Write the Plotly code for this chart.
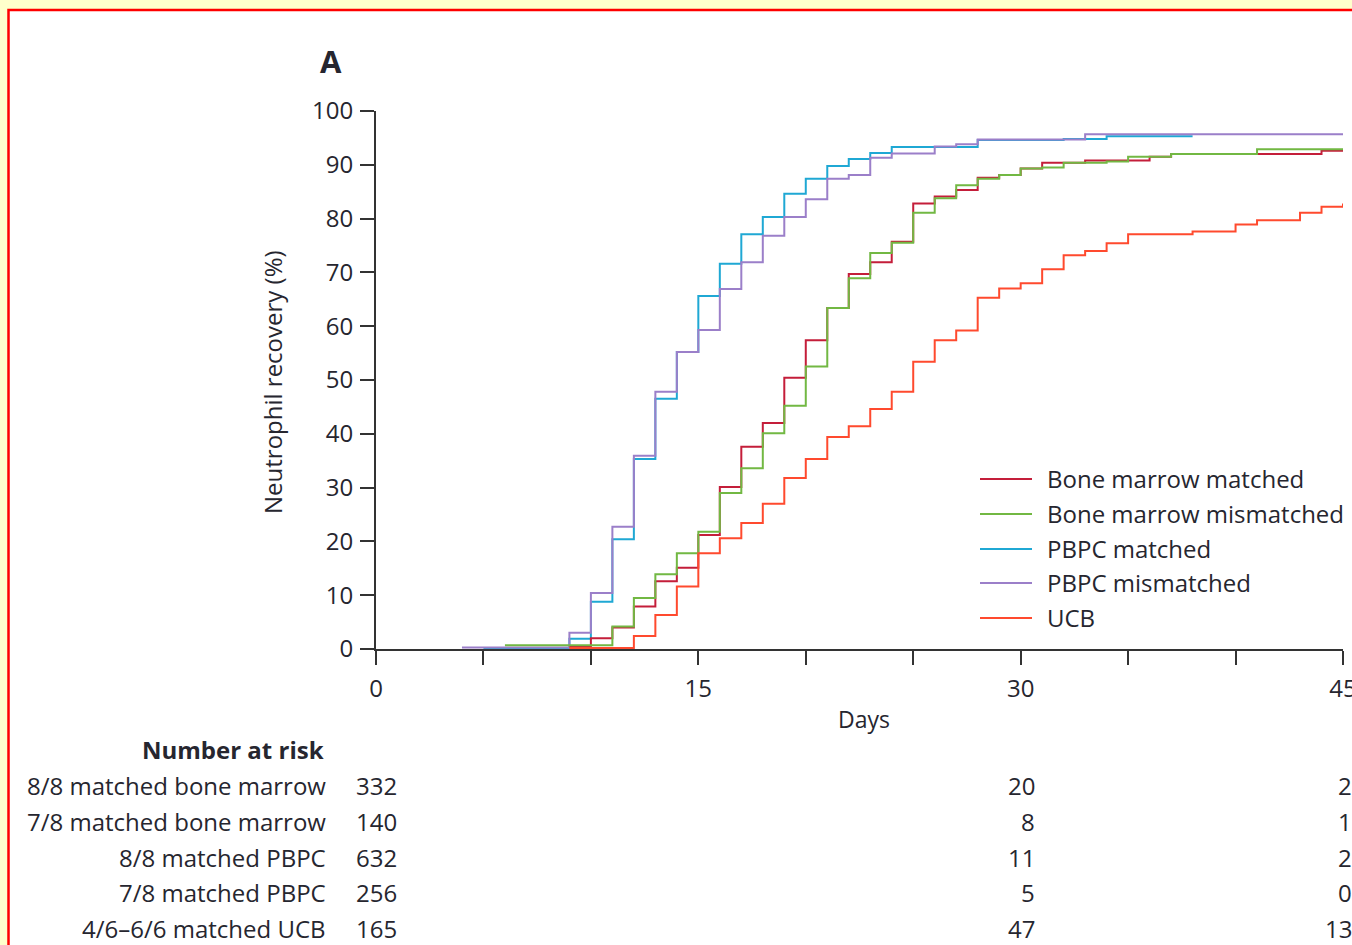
import plotly.graph_objects as go

# ---------------- data ----------------
series_names = ["Bone marrow matched", "Bone marrow mismatched", "PBPC matched",
                "PBPC mismatched", "UCB"]

bm_matched_days = [9, 10, 11, 12, 13, 14, 15, 16, 17, 18, 19, 20, 21, 22, 23, 24, 25, 26, 27, 28,
                   29, 30, 31, 33, 36, 37, 44, 45]
bm_matched_vals = [0.4, 2.0, 4.0, 7.9, 12.6, 15.1, 21.2, 30.1, 37.6, 42.0, 50.4, 57.4, 63.4, 69.7,
                   71.9, 75.7, 82.8, 84.1, 85.3, 87.6, 88.1, 89.3, 90.4, 90.8, 91.5, 92.0, 92.6, 92.6]

bm_mismatched_days = [6, 11, 12, 13, 14, 15, 16, 17, 18, 19, 20, 21, 22, 23, 24, 25, 26, 27, 28,
                      29, 30, 31, 32, 34, 35, 37, 41, 45]
bm_mismatched_vals = [0.7, 4.2, 9.5, 13.9, 17.8, 21.8, 29.0, 33.6, 40.1, 45.2, 52.5, 63.4, 68.9,
                      73.6, 75.5, 81.1, 83.8, 86.2, 87.4, 88.1, 89.3, 89.5, 90.4, 90.6, 91.5, 92.0,
                      92.9, 92.9]

pbpc_matched_days = [5, 9, 10, 11, 12, 13, 14, 15, 16, 17, 18, 19, 20, 21, 22, 23, 24, 28, 32, 34, 38]
pbpc_matched_vals = [0.2, 1.9, 8.8, 20.4, 35.3, 46.5, 55.2, 65.6, 71.6, 77.1, 80.3, 84.6, 87.4,
                     89.8, 91.1, 92.2, 93.3, 94.6, 94.8, 95.3, 95.3]

pbpc_mismatched_days = [4, 9, 10, 11, 12, 13, 14, 15, 16, 17, 18, 19, 20, 21, 22, 23, 24, 26, 27,
                        28, 33, 45]
pbpc_mismatched_vals = [0.3, 3.0, 10.4, 22.7, 35.9, 47.8, 55.2, 59.3, 66.9, 71.9, 76.8, 80.3, 83.6,
                        87.4, 88.1, 91.3, 92.1, 93.4, 93.8, 94.7, 95.7, 95.7]

ucb_days = [9, 12, 13, 14, 15, 16, 17, 18, 19, 20, 21, 22, 23, 24, 25, 26, 27, 28, 29, 30, 31, 32,
            33, 34, 35, 38, 40, 41, 43, 44, 45]
ucb_vals = [0.2, 2.4, 6.3, 11.6, 17.8, 20.6, 23.4, 27.0, 31.8, 35.3, 39.4, 41.4, 44.6, 47.8, 53.4,
            57.4, 59.2, 65.3, 67.0, 68.0, 70.6, 73.2, 74.0, 75.4, 77.1, 77.6, 78.9, 79.7, 81.1,
            82.2, 82.8]

x_tick_vals = [0, 5, 10, 15, 20, 25, 30, 35, 40, 45]
x_tick_text = ["0", "", "", "15", "", "", "30", "", "", "45"]
y_tick_vals = [0, 10, 20, 30, 40, 50, 60, 70, 80, 90, 100]

risk_labels = ["8/8 matched bone marrow", "7/8 matched bone marrow", "8/8 matched PBPC",
               "7/8 matched PBPC", "4/6–6/6 matched UCB"]
risk_days = [0, 30, 45]
risk_day0 = [332, 140, 632, 256, 165]
risk_day30 = [20, 8, 11, 5, 47]
risk_day45 = [2, 1, 2, 0, 13]

# ---------------- styling ----------------
colors = {"Bone marrow matched": "#c41e3a",
          "Bone marrow mismatched": "#72b843",
          "PBPC matched": "#1fa8d4",
          "PBPC mismatched": "#9b7fc9",
          "UCB": "#ff4a2e"}
FONT = "Open Sans"
TXT = "#26262f"
AX = "#333333"

W, H = 1352, 945
L, R, T, B = 376, 9, 111, 296
PW, PH = W - L - R, H - T - B


def px(x):
    return (x - L) / PW


def py(y):
    return (H - B - y) / PH


fig = go.Figure()

series = {
    "Bone marrow matched": (bm_matched_days, bm_matched_vals),
    "Bone marrow mismatched": (bm_mismatched_days, bm_mismatched_vals),
    "PBPC matched": (pbpc_matched_days, pbpc_matched_vals),
    "PBPC mismatched": (pbpc_mismatched_days, pbpc_mismatched_vals),
    "UCB": (ucb_days, ucb_vals),
}
draw_order = ["PBPC matched", "PBPC mismatched", "Bone marrow matched",
              "Bone marrow mismatched", "UCB"]
for name in draw_order:
    d, v = series[name]
    fig.add_trace(go.Scatter(x=d, y=v, mode="lines", name=name, line_shape="hv",
                             line=dict(color=colors[name], width=2), showlegend=False,
                             cliponaxis=False))

shapes = []
annotations = []

# frame: yellow page, white panel with red border
shapes.append(dict(type="rect", xref="paper", yref="paper", x0=px(8.5), x1=px(1400),
                   y0=py(10), y1=py(1000), fillcolor="white",
                   line=dict(color="#ff0000", width=2.5), layer="below"))

# manual legend
legend_y = [479, 514, 549, 583, 618]
for name, yy in zip(series_names, legend_y):
    shapes.append(dict(type="line", xref="paper", yref="paper", x0=px(980), x1=px(1032),
                       y0=py(yy), y1=py(yy), line=dict(color=colors[name], width=2)))
    annotations.append(dict(text=name, xref="paper", yref="paper", x=px(1045), y=py(yy - 1),
                            xanchor="left", yanchor="middle", showarrow=False,
                            font=dict(family=FONT, size=24, color=TXT)))

# panel letter
annotations.append(dict(text="<b>A</b>", xref="paper", yref="paper", x=px(331), y=py(61),
                        xanchor="center", yanchor="middle", showarrow=False,
                        font=dict(family=FONT, size=31, color=TXT)))
# axis titles
annotations.append(dict(text="Days", xref="paper", yref="paper", x=px(864), y=py(719),
                        xanchor="center", yanchor="middle", showarrow=False,
                        font=dict(family=FONT, size=23, color=TXT)))
annotations.append(dict(text="Neutrophil recovery (%)", xref="paper", yref="paper", x=px(272),
                        y=py(382), xanchor="center", yanchor="middle", showarrow=False,
                        textangle=-90, font=dict(family=FONT, size=24, color=TXT)))

# number at risk table
annotations.append(dict(text="<b>Number at risk</b>", xref="paper", yref="paper", x=px(326),
                        y=py(750), xanchor="right", yanchor="middle", showarrow=False,
                        font=dict(family=FONT, size=24, color=TXT)))
row_y = [786, 821, 857, 892, 928]
col_right = {0: 399, 30: 1037, 45: 1354}
for i, (lab, yy) in enumerate(zip(risk_labels, row_y)):
    annotations.append(dict(text=lab, xref="paper", yref="paper", x=px(328), y=py(yy),
                            xanchor="right", yanchor="middle", showarrow=False,
                            font=dict(family=FONT, size=24, color=TXT)))
    for day, vals in zip(risk_days, [risk_day0, risk_day30, risk_day45]):
        annotations.append(dict(text=str(vals[i]), xref="paper", yref="paper",
                                x=px(col_right[day]), y=py(yy), xanchor="right",
                                yanchor="middle", showarrow=False,
                                font=dict(family=FONT, size=24, color=TXT)))

axis_common = dict(showgrid=False, zeroline=False, showline=True, linecolor=AX, linewidth=2,
                   ticks="outside", ticklen=14, tickwidth=2, tickcolor=AX,
                   ticklabeloverflow="allow", automargin=False,
                   tickfont=dict(family=FONT, size=24, color=TXT))

fig.update_layout(
    width=W, height=H, autosize=False,
    margin=dict(l=L, r=R, t=T, b=B, pad=0, autoexpand=False),
    paper_bgcolor="#ffffcc", plot_bgcolor="rgba(0,0,0,0)",
    showlegend=False,
    xaxis=dict(range=[0, 45], tickmode="array", tickvals=x_tick_vals, ticktext=x_tick_text,
               ticklabelstandoff=3, **axis_common),
    yaxis=dict(range=[0, 100], tickmode="array", tickvals=y_tick_vals,
               ticklabelstandoff=2, **axis_common),
    shapes=shapes, annotations=annotations,
)

fig.write_html("out.html")
